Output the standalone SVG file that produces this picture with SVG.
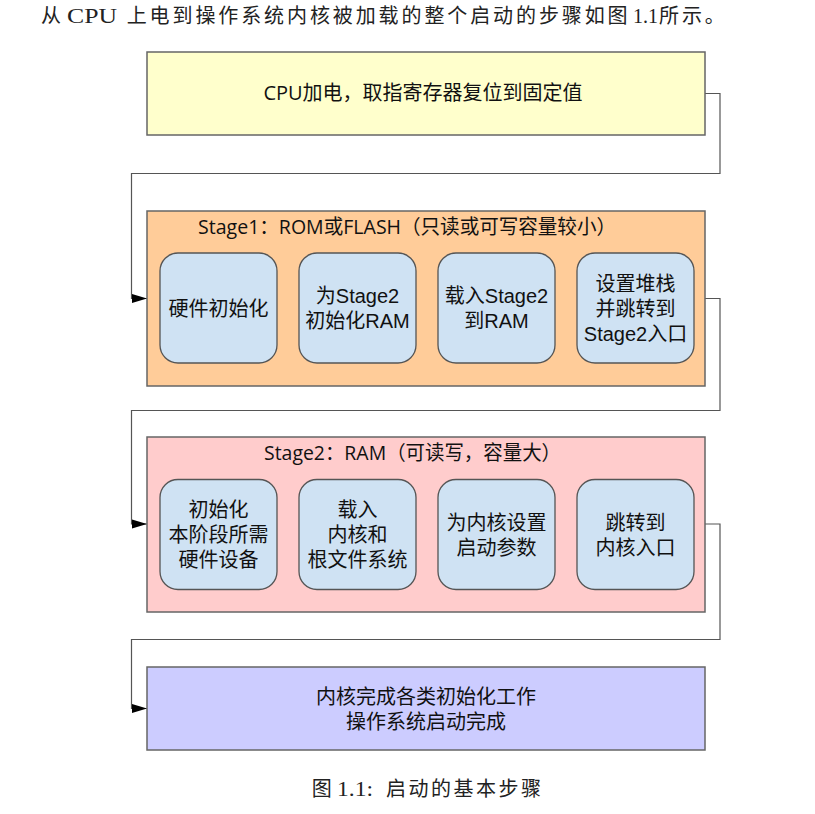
<svg xmlns="http://www.w3.org/2000/svg" width="815" height="814" viewBox="0 0 815 814">
<style>
.bg{fill:#ffffff}
.box{stroke:#666666;stroke-width:1.5}
.inner{fill:#cfe2f3;stroke:#555555;stroke-width:1.3}
.conn{fill:none;stroke:#555555;stroke-width:1.2}
.body{font-family:"Liberation Serif","Noto Sans CJK SC",serif;fill:#222222}
.cjkbody{font-family:"Noto Sans CJK SC",serif;font-size:20px;fill:#222222}
.title{font-family:"Open Sans","Noto Sans CJK SC",sans-serif;font-size:20px;fill:#111111}
.lbl{font-family:"Liberation Sans","Noto Sans CJK SC",sans-serif;font-size:20px;fill:#111111;text-anchor:middle}
</style>
<defs>
<marker id="arr" markerUnits="userSpaceOnUse" markerWidth="15" markerHeight="10" refX="15" refY="5" orient="auto">
<path d="M0,0.5 L15,5 L0,9.5 z" fill="#000000"/>
</marker>
</defs>
<rect class="bg" x="0" y="0" width="815" height="814"/>

<g id="intro">
<text class="cjkbody" x="41" y="22.5">从</text>
<text class="body" x="67" y="22.5" font-size="22" textLength="50" lengthAdjust="spacingAndGlyphs">CPU</text>
<text class="cjkbody" x="126.7" y="22.5" letter-spacing="2.9">上电到操作系统内核被加载的整个启动的步骤如图</text>
<text class="body" x="633" y="22.5" font-size="22" textLength="25" lengthAdjust="spacingAndGlyphs">1.1</text>
<text class="cjkbody" x="659" y="22.5" letter-spacing="2.9">所示。</text>
</g>

<g id="connectors">
<path class="conn" d="M705,93.5 H720 V173.5 H131.5 V298.5 H147" marker-end="url(#arr)"/>
<path class="conn" d="M705,298.5 H720 V410.5 H131.5 V524 H147" marker-end="url(#arr)"/>
<path class="conn" d="M705,524 H720 V639.5 H131.5 V708.5 H147" marker-end="url(#arr)"/>
<path class="conn" d="M277,308 H299" marker-end="url(#arr)"/>
<path class="conn" d="M416,308 H438" marker-end="url(#arr)"/>
<path class="conn" d="M555,308 H577" marker-end="url(#arr)"/>
<path class="conn" d="M277,534.5 H299" marker-end="url(#arr)"/>
<path class="conn" d="M416,534.5 H438" marker-end="url(#arr)"/>
<path class="conn" d="M555,534.5 H577" marker-end="url(#arr)"/>
</g>

<g id="power">
<rect class="box" x="147" y="52" width="558" height="83" fill="#ffffcc"/>
<text class="title" x="423" y="100" text-anchor="middle" font-size="20.5">CPU加电，取指寄存器复位到固定值</text>
</g>

<g id="stage1">
<rect class="box" x="147" y="211" width="558" height="175" fill="#ffcc99"/>
<text class="title" x="198" y="234" textLength="418" lengthAdjust="spacingAndGlyphs">Stage1：ROM或FLASH（只读或可写容量较小）</text>
</g>
<g id="s1_hw">
<rect class="inner" x="160" y="253" width="117" height="110" rx="18" ry="18"/>
<text class="lbl" x="218.5" y="316">硬件初始化</text>
</g>
<g id="s1_ram">
<rect class="inner" x="299" y="253" width="117" height="110" rx="18" ry="18"/>
<text class="lbl" x="357.5" y="302.5">为Stage2</text>
<text class="lbl" x="357.5" y="328">初始化RAM</text>
</g>
<g id="s1_load">
<rect class="inner" x="438" y="253" width="117" height="110" rx="18" ry="18"/>
<text class="lbl" x="496.5" y="302.5">载入Stage2</text>
<text class="lbl" x="496.5" y="328">到RAM</text>
</g>
<g id="s1_jump">
<rect class="inner" x="577" y="253" width="117" height="110" rx="18" ry="18"/>
<text class="lbl" x="635.5" y="290.5">设置堆栈</text>
<text class="lbl" x="635.5" y="316">并跳转到</text>
<text class="lbl" x="635.5" y="341">Stage2入口</text>
</g>

<g id="stage2">
<rect class="box" x="147" y="437" width="558" height="175" fill="#ffcccc"/>
<text class="title" x="264" y="460" textLength="297" lengthAdjust="spacingAndGlyphs">Stage2：RAM（可读写，容量大）</text>
</g>
<g id="s2_hw">
<rect class="inner" x="160" y="479.5" width="117" height="110" rx="18" ry="18"/>
<text class="lbl" x="218.5" y="517">初始化</text>
<text class="lbl" x="218.5" y="542">本阶段所需</text>
<text class="lbl" x="218.5" y="567">硬件设备</text>
</g>
<g id="s2_load">
<rect class="inner" x="299" y="479.5" width="117" height="110" rx="18" ry="18"/>
<text class="lbl" x="357.5" y="517">载入</text>
<text class="lbl" x="357.5" y="542">内核和</text>
<text class="lbl" x="357.5" y="567">根文件系统</text>
</g>
<g id="s2_param">
<rect class="inner" x="438" y="479.5" width="117" height="110" rx="18" ry="18"/>
<text class="lbl" x="496.5" y="530">为内核设置</text>
<text class="lbl" x="496.5" y="555">启动参数</text>
</g>
<g id="s2_jump">
<rect class="inner" x="577" y="479.5" width="117" height="110" rx="18" ry="18"/>
<text class="lbl" x="635.5" y="530">跳转到</text>
<text class="lbl" x="635.5" y="555">内核入口</text>
</g>

<g id="kernel">
<rect class="box" x="147" y="667" width="558" height="83" fill="#ccccff"/>
<text class="lbl" x="426" y="704">内核完成各类初始化工作</text>
<text class="lbl" x="426" y="729">操作系统启动完成</text>
</g>

<g id="caption">
<text class="cjkbody" x="311.7" y="796">图</text>
<text class="body" x="337" y="796" font-size="22" textLength="36" lengthAdjust="spacingAndGlyphs">1.1:</text>
<text class="cjkbody" x="386" y="796" letter-spacing="2.5">启动的基本步骤</text>
</g>
</svg>
